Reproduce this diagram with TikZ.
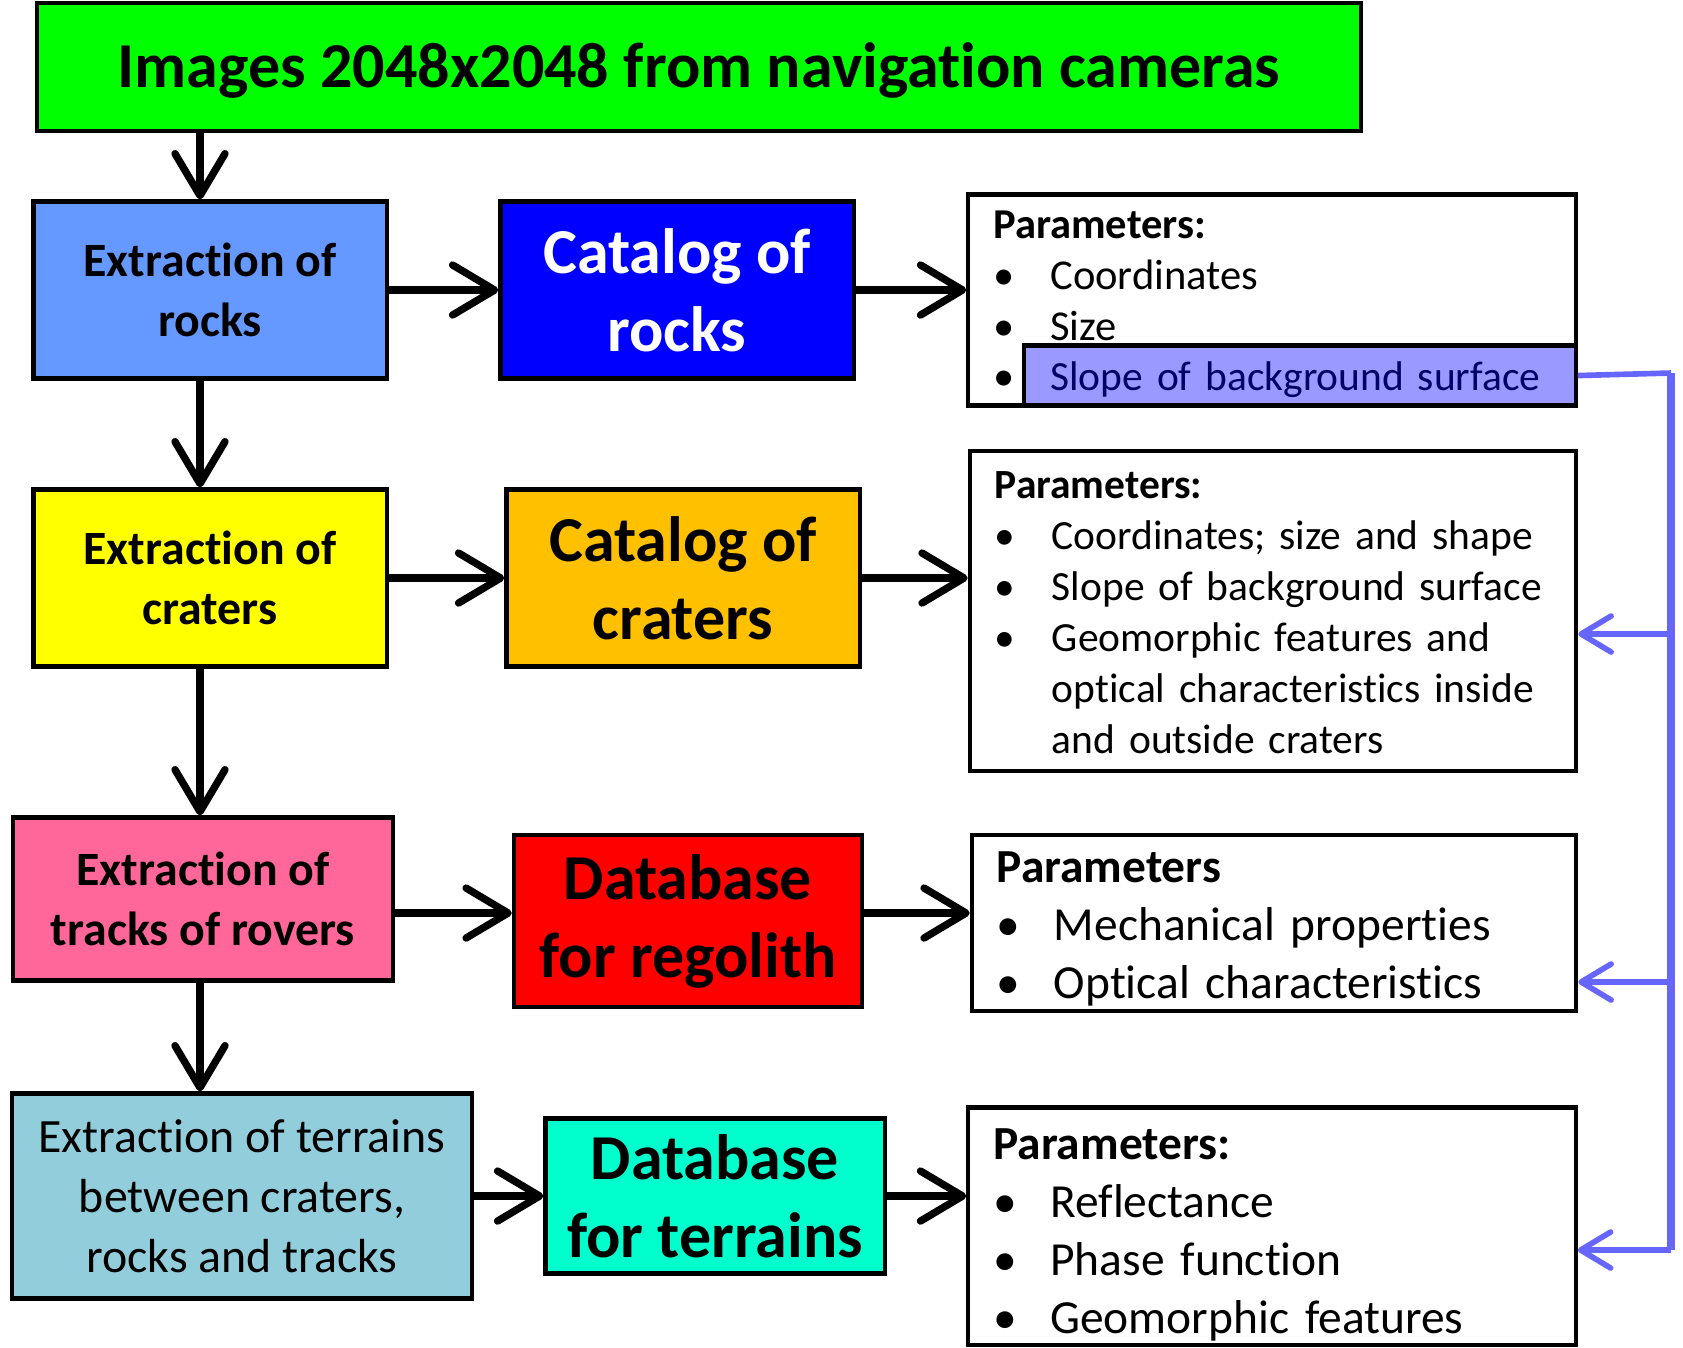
\documentclass[tikz,border=0pt]{standalone}
\usepackage{fontspec}
\setmainfont{Carlito}[Ligatures=NoCommon]
\usetikzlibrary{positioning}
\usetikzlibrary{arrows.meta}

\definecolor{imggreen}{HTML}{00FF00}
\definecolor{rockblue}{HTML}{6699FF}
\definecolor{catblue}{HTML}{0000FF}
\definecolor{cratyellow}{HTML}{FFFF00}
\definecolor{catorange}{HTML}{FFC000}
\definecolor{trackpink}{HTML}{FF6699}
\definecolor{regred}{HTML}{FF0000}
\definecolor{terrblue}{HTML}{92CDDC}
\definecolor{terrcyan}{HTML}{00FFCC}
\definecolor{slopefill}{HTML}{9999FF}
\definecolor{slopetext}{HTML}{000066}
\definecolor{linkblue}{HTML}{6666FF}

\newcommand{\itm}[1]{\makebox[0.57cm][l]{\textbullet}#1}

\begin{document}
\begin{tikzpicture}[
            x=0.01cm, y=-0.01cm,
            block/.style={
                draw,
                line width=1.2pt,
                align=center,
                inner sep=0pt
            },
            extract/.style={block, font=\bfseries\fontsize{13.6}{17}\selectfont},
            catalog/.style={block, font=\bfseries\fontsize{18.2}{22.2}\selectfont},
            params/.style={
                draw,
                line width=1.2pt,
                align=left,
                inner xsep=0.25cm,
                inner ysep=0pt,
                text height=0pt
            },
            arr/.style={-{Straight Barb[round,length=0.42cm,width=0.5cm]}, line width=2.1pt},
            link/.style={linkblue, line width=1.6pt},
            linkarr/.style={link, -{Straight Barb[round,length=0.3cm,width=0.36cm]}}
        ]

        \useasboundingbox (0,0) rectangle (1683,1347);

        \node[block, fill=imggreen, minimum width=13.23cm, minimum height=1.28cm, text depth=1pt,
            font=\bfseries\fontsize{18.2}{22}\selectfont] (images) at (699,67)
            {Images 2048x2048 from navigation cameras};

        % left column
        \node[extract, fill=rockblue, minimum width=3.53cm, minimum height=1.77cm] (rocks) at (210,290)
            {Extraction of\\ rocks};
        \node[extract, fill=cratyellow, minimum width=3.53cm, minimum height=1.77cm] (craters) at (210,578)
            {Extraction of\\ craters};
        \node[extract, fill=trackpink, minimum width=3.80cm, minimum height=1.63cm] (tracks) at (203,899)
            {Extraction of\\ tracks of rovers};
        \node[extract, fill=terrblue, minimum width=4.59cm, minimum height=2.05cm, font=\fontsize{13.6}{17}\selectfont] (terrains) at (242,1196)
            {Extraction of terrains\\ between craters,\\ rocks and tracks};

        % middle column
        \node[catalog, fill=catblue, text=white, minimum width=3.53cm, minimum height=1.77cm] (cat rocks) at (677,290)
            {Catalog of\\ rocks};
        \node[catalog, fill=catorange, minimum width=3.53cm, minimum height=1.77cm] (cat craters) at (683,578)
            {Catalog of\\ craters};
        \node[catalog, fill=regred, minimum width=3.48cm, minimum height=1.72cm] (regolith) at (688,921)
            {Database\\ for regolith};
        \node[catalog, fill=terrcyan, minimum width=3.39cm, minimum height=1.55cm] (db terrains) at (715,1196)
            {Database\\ for terrains};

        % parameters
        \node[params, text width=5.57cm, minimum height=2.11cm, text depth=1.22cm,
            font=\fontsize{12.1}{14.4}\selectfont] (par rocks) at (1272,300)
            {\textbf{Parameters:}\\
            \itm{Coordinates}\\
            \itm{Size}\\
            \itm{}};
        \node[draw, line width=1.2pt, fill=slopefill, text=slopetext, align=left,
            anchor=south east, inner xsep=0.26cm, inner ysep=0pt, text height=0.3cm, text depth=0pt,
            text width=4.99cm, minimum height=0.6cm, font=\fontsize{11.8}{14.4}\selectfont] (slope) at (par rocks.south east)
            {\mbox{Slope of background surface}};
        \node[params, text width=5.56cm, minimum height=3.2cm, text depth=2.25cm,
            font=\fontsize{11.8}{14.5}\selectfont] (par craters) at (1273,611)
            {\textbf{Parameters:}\\
            \itm{Coordinates; size and shape}\\
            \itm{Slope of background surface}\\
            \itm{Geomorphic features and}\\
            \hspace*{0.57cm}optical characteristics inside\\
            \hspace*{0.57cm}and outside craters};
        \node[params, text width=5.54cm, minimum height=1.76cm, text depth=0.815cm,
            font=\fontsize{13.5}{16.5}\selectfont] (par regolith) at (1274,923)
            {\textbf{Parameters}\\
            \itm{Mechanical properties}\\
            \itm{Optical characteristics}};
        \node[params, text width=5.57cm, minimum height=2.37cm, text depth=1.335cm,
            font=\fontsize{13.5}{16.5}\selectfont] (par terrains) at (1272,1226)
            {\textbf{Parameters:}\\
            \itm{Reflectance}\\
            \itm{Phase function}\\
            \itm{Geomorphic features}};

        % black arrows
        \coordinate (col) at (200,0);
        \draw[arr] (col |- images.south) -- (col |- rocks.north);
        \draw[arr] (col |- rocks.south) -- (col |- craters.north);
        \draw[arr] (col |- craters.south) -- (col |- tracks.north);
        \draw[arr] (col |- tracks.south) -- (col |- terrains.north);

        \coordinate (reg row) at (0,913);
        \draw[arr] (rocks.east) -- (cat rocks.west);
        \draw[arr] (cat rocks.east) -- (cat rocks.east -| par rocks.west);
        \draw[arr] (craters.east) -- (cat craters.west);
        \draw[arr] (cat craters.east) -- (cat craters.east -| par craters.west);
        \draw[arr] (reg row -| tracks.east) -- (reg row -| regolith.west);
        \draw[arr] (reg row -| regolith.east) -- (reg row -| par regolith.west);
        \draw[arr] (terrains.east) -- (db terrains.west);
        \draw[arr] (db terrains.east) -- (db terrains.east -| par terrains.west);

        % blue links
        \coordinate (bus) at (1671,373);
        \coordinate (to craters) at (1671,634);
        \coordinate (to regolith) at (1671,982);
        \coordinate (to terrains) at (1671,1250);
        \draw[link] (slope.east) -- (bus);
        \draw[link, line width=2.4pt] (bus) -- (to terrains);
        \draw[linkarr] (to craters) -- (to craters -| par craters.east);
        \draw[linkarr] (to regolith) -- (to regolith -| par regolith.east);
        \draw[linkarr] (to terrains) -- (to terrains -| par terrains.east);

    \end{tikzpicture}
\end{document}
